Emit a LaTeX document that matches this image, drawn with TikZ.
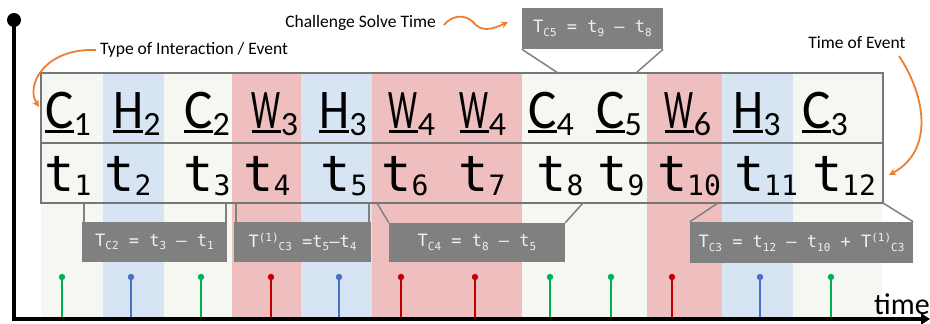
\documentclass[tikz,border=0pt]{standalone}
\usepackage{fontspec}
\usepackage{graphicx}
\setmainfont{Carlito}
\newfontfamily\monofont{DejaVu Sans Mono}
\usetikzlibrary{arrows.meta}
\definecolor{cgreen}{HTML}{F5F8F2}
\definecolor{cblue}{HTML}{D6E4F3}
\definecolor{cred}{HTML}{EFBFBF}
\definecolor{sgreen}{HTML}{00B050}
\definecolor{sblue}{HTML}{4472C4}
\definecolor{sred}{HTML}{C00000}
\definecolor{corange}{HTML}{ED7D31}
\definecolor{cgray}{HTML}{808080}
\definecolor{cframe}{HTML}{767676}
\definecolor{ctext}{HTML}{F0F0F0}
\newcommand\ulet[1]{\setbox0\hbox{#1}\rlap{\rule[-4.5pt]{\wd0}{3pt}}\box0}
\newcommand\toplab[3]{\fontsize{56}{60}\selectfont\ulet{\scalebox{#3}[1]{#1}}\raisebox{-7pt}{\fontsize{34}{36}\selectfont #2}}
\newcommand\botlab[1]{\monofont\fontsize{50}{54}\selectfont t\raisebox{-4pt}{\fontsize{28}{30}\selectfont #1}}
\newcommand\csb[1]{\raisebox{-3.5pt}{\fontsize{11}{12}\selectfont #1}}
\newcommand\csp[1]{\raisebox{6pt}{\fontsize{11}{12}\selectfont #1}}
\tikzset{
  callout/.style={fill=cgray, text=ctext, inner sep=0pt, font=\monofont\fontsize{17}{20}\selectfont},
  pointer/.style={draw=cgray, line width=1.5pt},
  annot/.style={font=\fontsize{17.5}{20}\selectfont, inner sep=0pt, text=black},
  orangearrow/.style={draw=corange, line width=1.8pt, -{Stealth[length=7pt,width=7pt]}},
  stem/.style={line width=1.8pt},
  lab/.style={inner sep=0pt, anchor=base}
}
\begin{document}
\begin{tikzpicture}[x=1pt,y=-1pt]
\useasboundingbox (0,0) rectangle (930,324);
% stripes
\foreach \a/\b/\c in {41/103/cgreen,103/164/cblue,164/232/cgreen,232/301/cred,301/372/cblue,372/522/cred,522/647/cgreen,647/722/cred,722/793/cblue,793/882/cgreen}
  \fill[\c] (\a,73) rectangle (\b,318);
% table frame
\draw[cframe, line width=2pt] (41,73) rectangle (883,203);
\draw[cframe, line width=2pt] (41,143) -- (883,143);
% top labels
\foreach \x/\L/\n/\s [count=\i] in {68/C/1/0.95,137/H/2/0.86,207/C/2/0.95,275/W/3/0.58,343/H/3/0.86,412/W/4/0.58,483/W/4/0.58,551/C/4/0.95,619/C/5/0.95,688/W/6/0.58,757/H/3/0.86,825/C/3/0.95}
  \node[lab] (L\i) at (\x,128) {\toplab{\L}{\n}{\s}};
% bottom labels
\foreach \x/\n [count=\i] in {68/1,128/2,207/3,267/4,344/5,405/6,482/7,560/8,621/9,689/10,766/11,844/12}
  \node[lab] (B\i) at (\x,191) {\botlab{\n}};
% stems
\foreach \x/\c [count=\i] in {62/sgreen,131/sblue,201/sgreen,271/sred,339/sblue,401/sred,475/sred,550/sgreen,611/sgreen,672/sred,760/sblue,831/sgreen}{
  \coordinate (s\i) at (\x,277);
  \draw[stem,\c] (s\i) -- (\x,318);
  \fill[\c] (s\i) circle (3.2pt);
}
% callouts
\node[callout, minimum width=145pt, minimum height=40pt] (c2) at (154.5,242) {T\csb{C2} = t\csb{3} – t\csb{1}};
\node[callout, minimum width=137pt, minimum height=40pt] (c3a) at (302.5,242) {T\csp{(1)}\csb{C3} =t\csb{5}–t\csb{4}};
\node[callout, minimum width=176pt, minimum height=39pt] (c4) at (477,242.5) {T\csb{C4} = t\csb{8} – t\csb{5}};
\node[callout, minimum width=223pt, minimum height=41pt] (c3) at (801.5,242.5) {T\csb{C3} = t\csb{12} – t\csb{10} + T\csp{(1)}\csb{C3}};
\node[callout, minimum width=141pt, minimum height=41pt] (c5) at (592.5,28.5) {T\csb{C5} = t\csb{9} – t\csb{8}};
% pointer targets on table
\coordinate (p2a) at (84,203); \coordinate (p2b) at (226,203);
\coordinate (p3a) at (236,203); \coordinate (p3b) at (369,203);
\coordinate (p4a) at (377,203); \coordinate (p4b) at (583,203);
\coordinate (p5a) at (718,203); \coordinate (p5b) at (883,203);
\coordinate (p6a) at (558,73); \coordinate (p6b) at (636,73);
\draw[pointer] (c2.north west -| p2a) -- (p2a);
\draw[pointer] (c2.north east -| p2b) -- (p2b);
\draw[pointer] (c3a.north west -| p3a) -- (p3a);
\draw[pointer] (c3a.north east -| p3b) -- (p3b);
\draw[pointer] (c4.north west) -- (p4a);
\draw[pointer] (c4.north east) -- (p4b);
\draw[pointer] (c3.north west) -- (p5a);
\draw[pointer] (c3.north east) -- (p5b);
\draw[pointer] (c5.south west) -- (p6a);
\draw[pointer] (c5.south east) -- (p6b);
% annotations
\node[annot, anchor=west] (tin) at (100,50) {Type of Interaction / Event};
\node[annot, anchor=east] (cst) at (436,23) {Challenge Solve Time};
\node[annot, anchor=center] (toe) at (857,43) {Time of Event};
\coordinate (a1s) at (96,50);
\coordinate (a1) at (39,107);
\coordinate (a2s) at (444,25);
\coordinate (a2) at (508,22);
\coordinate (a3s) at (899,56);
\coordinate (a3) at (889,175);
\draw[orangearrow] (a1s) .. controls (45,48) and (25,85) .. (a1);
\draw[orangearrow] (a2s) .. controls (452,15) and (465,14) .. (473,22) .. controls (481,32) and (491,30) .. (a2);
\draw[orangearrow] (a3s) .. controls (925,95) and (935,150) .. (a3);
% axes
\coordinate (o) at (14,319);
\coordinate (top) at (14,20);
\coordinate (xend) at (930,319);
\draw[line width=4.5pt] (top) -- (o);
\fill (top) circle (7pt);
\draw[line width=4.5pt, -{Triangle[length=9pt,width=11pt]}] ([xshift=-2.25pt]o) -- (xend);
\node[inner sep=0pt, anchor=base west, font=\fontsize{30}{32}\selectfont] (tm) at (874,314) {time};
\end{tikzpicture}
\end{document}
